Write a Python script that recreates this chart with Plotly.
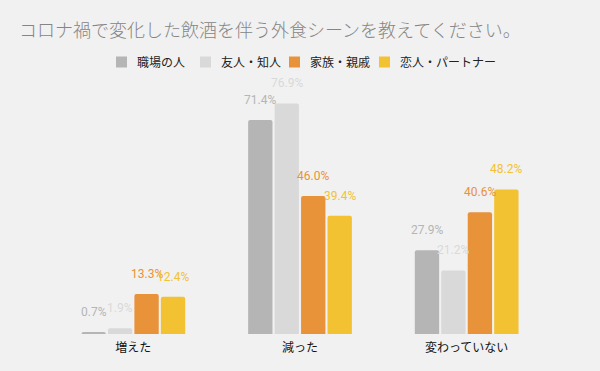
import plotly.graph_objects as go

categories = ["増えた", "減った", "変わっていない"]
series_names = ["職場の人", "友人・知人", "家族・親戚", "恋人・パートナー"]
shokuba = [0.7, 71.4, 27.9]
yujin = [1.9, 76.9, 21.2]
kazoku = [13.3, 46.0, 40.6]
koibito = [12.4, 39.4, 48.2]
series_values = [shokuba, yujin, kazoku, koibito]
colors = ["#b5b5b5", "#d9d9d9", "#e8923a", "#f2c232"]

W, H = 600, 371
ML, MR, MT, MB = 50, 50, 80, 37
BARGAP, GROUPGAP = 0.365, 0.08
plot_w = W - ML - MR
plot_h = H - MT - MB

fig = go.Figure()
for name, vals, c in zip(series_names, series_values, colors):
    fig.add_trace(go.Bar(x=categories, y=vals, name=name, marker_color=c,
                         marker_line_width=0, showlegend=False))

# value labels as annotations above each bar
cat_w = plot_w / len(categories)
group_w = cat_w * (1 - BARGAP)
slot = group_w / len(series_names)
for i, (vals, c) in enumerate(zip(series_values, colors)):
    xs = (i - (len(series_names) - 1) / 2) * slot
    for cat, v in zip(categories, vals):
        fig.add_annotation(x=cat, y=v, text=f"{v:.1f}%", showarrow=False,
                           xshift=xs, yshift=20, yanchor="middle",
                           font=dict(color=c, size=12, family="Roboto, Noto Sans CJK JP"))

# legend row (compact, like the reference)
legend_px = [116, 200, 289, 379]
leg_y = (H - MB - 62) / plot_h
sw = 11
for name, c, px in zip(series_names, colors, legend_px):
    x0 = (px - ML) / plot_w
    x1 = (px + sw - ML) / plot_w
    fig.add_shape(type="rect", xref="paper", yref="paper",
                  x0=x0, x1=x1, y0=leg_y - sw / 2 / plot_h, y1=leg_y + sw / 2 / plot_h,
                  fillcolor=c, line_width=0)
    fig.add_annotation(xref="paper", yref="paper", x=(px + 19 - ML) / plot_w, y=leg_y,
                       xanchor="left", yanchor="middle", showarrow=False, text=name,
                       font=dict(size=12, color="#222222", family="Noto Sans CJK JP"))

fig.update_layout(
    width=W, height=H,
    margin=dict(l=ML, r=MR, t=MT, b=MB),
    paper_bgcolor="#f1f1f1", plot_bgcolor="#f1f1f1",
    barmode="group", bargap=BARGAP, bargroupgap=GROUPGAP, barcornerradius=2,
    font=dict(family="Noto Sans CJK JP, Roboto", size=12, color="#222222"),
    title=dict(text="コロナ禍で変化した飲酒を伴う外食シーンを教えてください。",
               x=19 / W, xanchor="left", y=1 - 31 / H, yanchor="middle",
               font=dict(size=18, color="#858585", family="Noto Sans CJK JP", weight=300)),
    xaxis=dict(showgrid=False, zeroline=False, showline=False, ticks="",
               ticklabelstandoff=5,
               tickfont=dict(size=12, color="#111111")),
    yaxis=dict(range=[0, 84.7], visible=False, showgrid=False, zeroline=False),
    showlegend=False,
)
fig.write_html("out.html", config={"displayModeBar": False},
               post_script="document.body.style.margin='0px';")
